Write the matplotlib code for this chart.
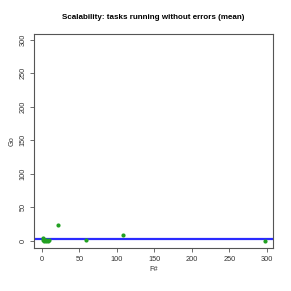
import matplotlib
matplotlib.use("Agg")
import matplotlib.pyplot as plt
import numpy as np

plt.rcParams['font.family'] = ['Liberation Sans', 'DejaVu Sans']

# data
fs_tasks = [1, 2, 3, 4, 5, 6, 8, 10, 21, 59, 108, 297]
go_tasks = [1, 4, 0, 1, 0, 1, 0, 1, 23, 1.5, 8.5, 0]
fit_level = 3.2

xticks = [0, 50, 100, 150, 200, 250, 300]
yticks = [0, 50, 100, 150, 200, 250, 300]

fig = plt.figure(figsize=(2.91, 2.91), dpi=100)
ax = fig.add_axes([0.117, 0.147, 0.822, 0.736])

ax.axhline(fit_level, color="#2a2aff", lw=1.6, zorder=2)
ax.scatter(fs_tasks, go_tasks, s=9, color="#22a022", zorder=3, linewidths=0)

ax.set_xlim(-10.3, 308.4)
ax.set_ylim(-10.9, 308.5)
ax.set_xticks(xticks)
ax.set_yticks(yticks)
ax.tick_params(labelsize=5.3, length=3, width=0.6, color="#555555",
               labelcolor="#333333", pad=2.5)
for lbl in ax.get_yticklabels():
    lbl.set_rotation(90)
    lbl.set_va("center")
for s in ax.spines.values():
    s.set_color("#555555")
    s.set_linewidth(0.8)

ax.set_xlabel("F#", fontsize=5.3, labelpad=2.5, color="#333333")
ax.set_ylabel("Go", fontsize=5.3, labelpad=2.5, color="#333333")
fig.text(0.527, 0.94, "Scalability: tasks running without errors (mean)",
         ha="center", va="center", fontsize=5.8, fontweight="bold")

fig.savefig("out.png", dpi=100)
